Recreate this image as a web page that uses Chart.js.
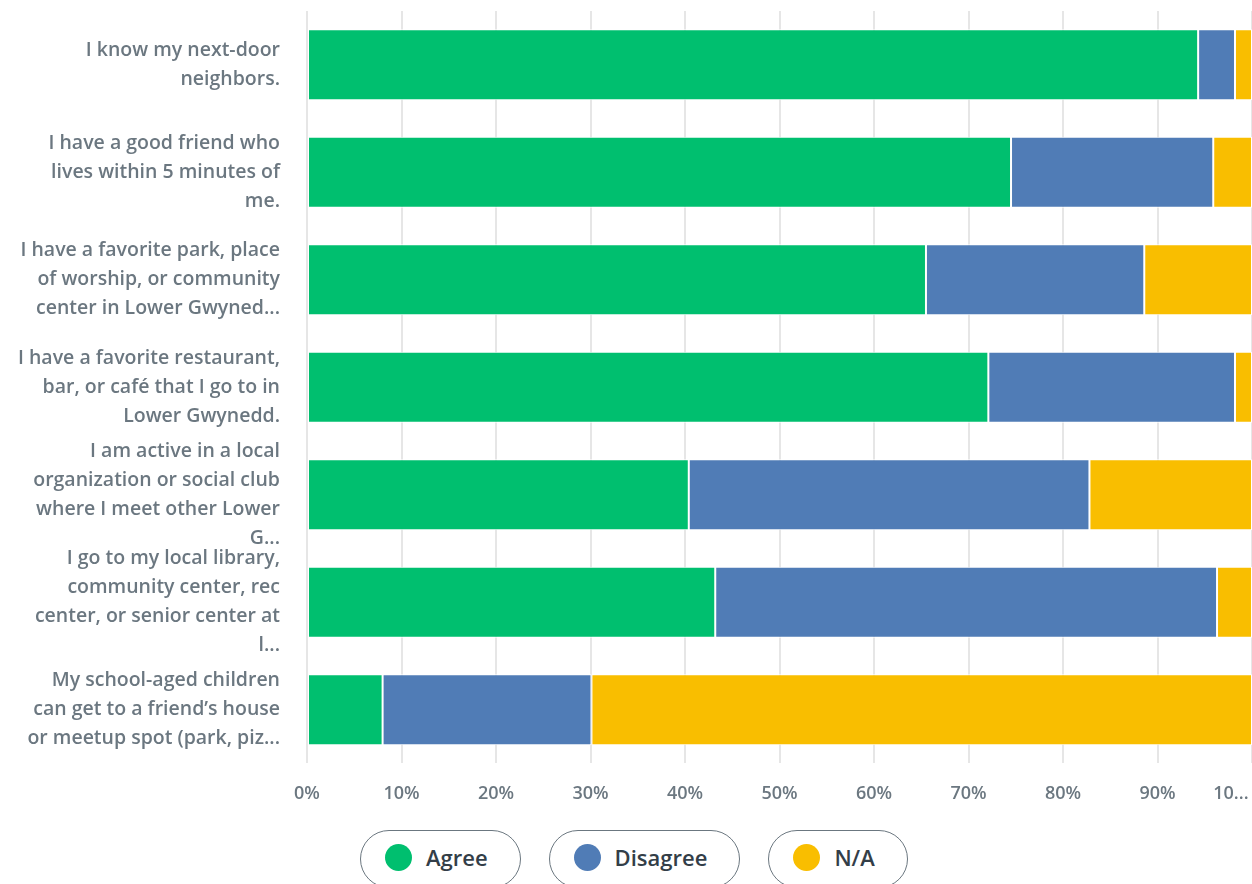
<!DOCTYPE html>
<html>
<head>
<meta charset="utf-8">
<script src="https://cdn.jsdelivr.net/npm/chart.js@4"></script>
<style>
  body { margin: 0; background: #fff; overflow: hidden; font-family: "Open Sans", sans-serif; }
  #wrap { position: absolute; left: 0; top: 0; width: 1252px; height: 825px; }
  #legend { position: absolute; top: 830px; left: 360px; display: flex; gap: 28px; }
  .pill { box-sizing: border-box; height: 58px; border: 1.5px solid #6b7780; border-radius: 29px;
          display: flex; align-items: center; padding: 0 0 4px 24px; font-size: 22px; font-weight: 600; color: #333e48; }
  .dot { width: 27px; height: 27px; border-radius: 50%; margin-right: 14px; }
</style>
</head>
<body>
<div id="wrap"><canvas id="chart"></canvas></div>
<div id="legend"></div>
<script>
var questions = [
  ["I know my next-door", "neighbors."],
  ["I have a good friend who", "lives within 5 minutes of", "me."],
  ["I have a favorite park, place", "of worship, or community", "center in Lower Gwyned..."],
  ["I have a favorite restaurant,", "bar, or café that I go to in", "Lower Gwynedd."],
  ["I am active in a local", "organization or social club", "where I meet other Lower", "G..."],
  ["I go to my local library,", "community center, rec", "center, or senior center at", "l..."],
  ["My school-aged children", "can get to a friend’s house", "or meetup spot (park, piz..."]
];
var agree    = [94.3, 74.5, 65.5, 72.1, 40.4, 43.2, 8.0];
var disagree = [3.9, 21.4, 23.1, 26.1, 42.4, 53.1, 22.1];
var na       = [1.8, 4.1, 11.4, 1.8, 17.2, 3.7, 69.9];
var seriesNames = ["Agree", "Disagree", "N/A"];
var colors = ["#00bf6f", "#507cb6", "#f9be00"];
var tickLabels = ["0%", "10%", "20%", "30%", "40%", "50%", "60%", "70%", "80%", "90%", "10...         "];

var grey = "#6b7780";
var values = [agree, disagree, na];

new Chart(document.getElementById("chart"), {
  type: 'bar',
  data: {
    labels: questions,
    datasets: values.map(function (v, i) {
      return {
        label: seriesNames[i],
        data: v,
        backgroundColor: colors[i],
        borderColor: "#ffffff",
        borderWidth: 1,
        borderSkipped: false,
        barPercentage: 0.66,
        categoryPercentage: 1
      };
    })
  },
  options: {
    indexAxis: 'y',
    responsive: true,
    maintainAspectRatio: false,
    animation: false,
    layout: { padding: { top: 11, right: 0, left: 0, bottom: 0 } },
    plugins: { legend: { display: false }, tooltip: { enabled: false } },
    scales: {
      x: {
        stacked: true,
        min: 0, max: 100,
        border: { display: false },
        grid: { color: "#e6e6e6", lineWidth: 2, drawTicks: false },
        ticks: {
          stepSize: 10,
          padding: 20,
          maxRotation: 0,
          autoSkip: false,
          color: grey,
          font: { family: "Open Sans", size: 18, weight: 600 },
          callback: function (v, i) { return tickLabels[i]; }
        },
        afterFit: function (scale) { scale.paddingRight = 0; scale.paddingLeft = 0; }
      },
      y: {
        stacked: true,
        border: { display: false },
        grid: { display: false, drawTicks: false },
        ticks: {
          padding: 27,
          autoSkip: false,
          color: grey,
          font: { family: "Open Sans", size: 19.5, weight: 600, lineHeight: 1.48 }
        },
        afterFit: function (scale) { scale.width = 307; scale.paddingTop = 0; scale.paddingBottom = 0; }
      }
    }
  }
});

var legend = document.getElementById("legend");
seriesNames.forEach(function (name, i) {
  var pill = document.createElement("div");
  pill.className = "pill";
  pill.style.paddingRight = "32px";
  var dot = document.createElement("span");
  dot.className = "dot";
  dot.style.background = colors[i];
  var txt = document.createElement("span");
  txt.textContent = name;
  pill.appendChild(dot);
  pill.appendChild(txt);
  legend.appendChild(pill);
});
</script>
</body>
</html>
